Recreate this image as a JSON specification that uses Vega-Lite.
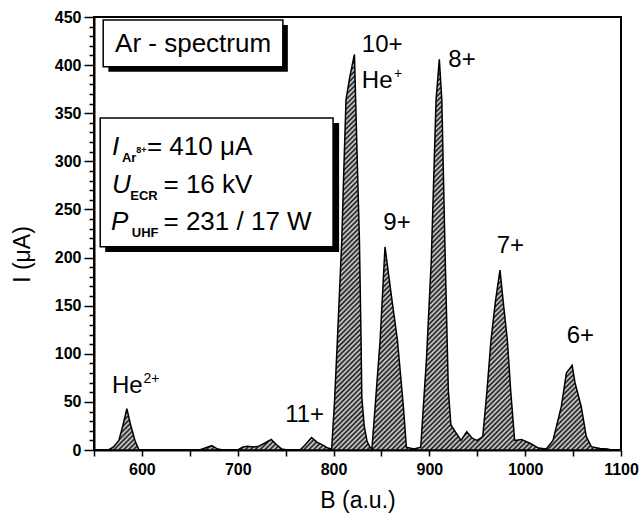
{
  "$schema": "https://vega.github.io/schema/vega-lite/v6.json",
  "width": 527,
  "height": 433,
  "autosize": "none",
  "padding": {"left": 94, "top": 17, "right": 20, "bottom": 74},
  "background": "white",
  "config": {
    "font": "Liberation Sans",
    "view": {"stroke": "black", "strokeWidth": 2},
    "axis": {
      "domainColor": "black", "domainWidth": 2,
      "tickColor": "black", "tickWidth": 1.5,
      "labelColor": "black", "labelFont": "Liberation Sans", "labelFontSize": 16, "labelFontWeight": "bold",
      "titleFont": "Liberation Sans", "titleFontSize": 23, "titleFontWeight": "normal", "titleColor": "black",
      "grid": false, "labelOverlap": false, "labelFlush": false
    }
  },
  "datasets": {
    "spectrum": [
      {"x": 565, "y": 0}, {"x": 570, "y": 3}, {"x": 576, "y": 10}, {"x": 580, "y": 25}, {"x": 584.3, "y": 43},
      {"x": 588, "y": 27}, {"x": 593, "y": 9}, {"x": 597, "y": 0}, {"x": 660, "y": 0}, {"x": 666, "y": 2},
      {"x": 673, "y": 4.5}, {"x": 679, "y": 1}, {"x": 685, "y": 0}, {"x": 700, "y": 0}, {"x": 705, "y": 3},
      {"x": 710, "y": 4}, {"x": 716, "y": 3}, {"x": 722, "y": 4}, {"x": 728, "y": 7}, {"x": 735, "y": 11},
      {"x": 740, "y": 6}, {"x": 746, "y": 1}, {"x": 752, "y": 0}, {"x": 765, "y": 0}, {"x": 770, "y": 5},
      {"x": 777, "y": 13}, {"x": 783, "y": 8}, {"x": 789, "y": 5}, {"x": 794, "y": 2}, {"x": 798, "y": 1},
      {"x": 801, "y": 50}, {"x": 804, "y": 114}, {"x": 808.6, "y": 218}, {"x": 811, "y": 300}, {"x": 813, "y": 364},
      {"x": 817, "y": 388}, {"x": 821.8, "y": 411}, {"x": 824.5, "y": 310}, {"x": 827, "y": 218}, {"x": 828.7, "y": 114},
      {"x": 829.5, "y": 55}, {"x": 832, "y": 25}, {"x": 835, "y": 9}, {"x": 838, "y": 3}, {"x": 840, "y": 1},
      {"x": 843.4, "y": 45}, {"x": 848.6, "y": 114}, {"x": 853.7, "y": 211}, {"x": 860, "y": 163}, {"x": 866.7, "y": 114},
      {"x": 872.9, "y": 45}, {"x": 876, "y": 3}, {"x": 884, "y": 1}, {"x": 891, "y": 3}, {"x": 897, "y": 95},
      {"x": 902, "y": 197}, {"x": 907, "y": 364}, {"x": 910.4, "y": 406}, {"x": 913, "y": 364}, {"x": 916.4, "y": 205},
      {"x": 919.8, "y": 62}, {"x": 922.5, "y": 26}, {"x": 927, "y": 19}, {"x": 933, "y": 10}, {"x": 939, "y": 19},
      {"x": 945, "y": 12}, {"x": 950, "y": 10}, {"x": 955.7, "y": 14}, {"x": 960, "y": 60}, {"x": 964.3, "y": 114},
      {"x": 969, "y": 155}, {"x": 973.7, "y": 187}, {"x": 977.5, "y": 150}, {"x": 981.4, "y": 114}, {"x": 985, "y": 60},
      {"x": 989, "y": 10}, {"x": 996, "y": 11}, {"x": 1005, "y": 7}, {"x": 1014, "y": 2}, {"x": 1022, "y": 1},
      {"x": 1029, "y": 10}, {"x": 1037.7, "y": 45}, {"x": 1043, "y": 80}, {"x": 1049, "y": 88}, {"x": 1052, "y": 70},
      {"x": 1058.5, "y": 45}, {"x": 1063.8, "y": 14}, {"x": 1069, "y": 3.5}, {"x": 1078, "y": 1.5}, {"x": 1086, "y": 1},
      {"x": 1090, "y": 0}
    ],
    "shadows": [
      {"x": 565, "x2": 752.3, "y": 441.7, "y2": 393.2},
      {"x": 561.7, "x2": 805.8, "y": 339.8, "y2": 205.8}
    ],
    "boxes": [
      {"x": 559.6, "x2": 747.1, "y": 446.9, "y2": 398.4},
      {"x": 556.5, "x2": 799.5, "y": 345, "y2": 211.3}
    ],
    "boxTitle": [{"x": 653.4, "y": 414, "text": "Ar - spectrum"}],
    "peakLabels": [
      {"x": 829.5, "y": 414, "text": "10+"},
      {"x": 829.5, "y": 376, "text": "He"},
      {"x": 919.8, "y": 398, "text": "8+"},
      {"x": 852, "y": 229, "text": "9+"},
      {"x": 970.3, "y": 205, "text": "7+"},
      {"x": 1043.3, "y": 111, "text": "6+"},
      {"x": 749.5, "y": 29.4, "text": "11+"},
      {"x": 568.7, "y": 59, "text": "He"}
    ],
    "peakSups": [
      {"x": 863.2, "y": 387, "text": "+"},
      {"x": 601.6, "y": 69.3, "text": "2+"}
    ],
    "symbols": [
      {"x": 568.7, "y": 306.7, "text": "I"},
      {"x": 568.7, "y": 267.5, "text": "U"},
      {"x": 567.8, "y": 228.6, "text": "P"}
    ],
    "subs": [
      {"x": 579.1, "y": 299.4, "text": "Ar"},
      {"x": 587.8, "y": 259.8, "text": "ECR"},
      {"x": 589.5, "y": 221.4, "text": "UHF"}
    ],
    "tinySup": [{"x": 594, "y": 309, "text": "8+"}],
    "values": [
      {"x": 605.2, "y": 306.7, "text": "= 410 μA"},
      {"x": 622.5, "y": 267.5, "text": "= 16 kV"},
      {"x": 622.5, "y": 228.6, "text": "= 231 / 17 W"}
    ]
  },
  "encoding": {
    "x": {
      "field": "x", "type": "quantitative",
      "scale": {"domain": [550, 1100], "nice": false, "zero": false},
      "axis": {
        "title": "B (a.u.)",
        "values": [550, 600, 650, 700, 750, 800, 850, 900, 950, 1000, 1050, 1100],
        "format": "d",
        "labelExpr": "datum.value % 100 === 0 ? datum.label : ''",
        "tickSize": 6, "labelPadding": 5, "titlePadding": 12
      }
    },
    "y": {
      "field": "y", "type": "quantitative",
      "scale": {"domain": [0, 450], "nice": false},
      "axis": {
        "title": "I (μA)",
        "values": [0, 10, 20, 30, 40, 50, 60, 70, 80, 90, 100, 110, 120, 130, 140, 150, 160, 170, 180, 190, 200, 210, 220, 230, 240, 250, 260, 270, 280, 290, 300, 310, 320, 330, 340, 350, 360, 370, 380, 390, 400, 410, 420, 430, 440, 450],
        "format": "d",
        "labelExpr": "datum.value % 50 === 0 ? datum.label : ''",
        "tickSize": {"condition": {"test": "datum.value % 50 === 0", "value": 10}, "value": 5},
        "labelPadding": 3, "titlePadding": 20, "titleY": 237
      }
    }
  },
  "layer": [
    {
      "data": {"name": "spectrum"},
      "mark": {"type": "area", "stroke": "black", "strokeWidth": 1.5, "interpolate": "linear",
        "fill": {"gradient": "linear", "x1": 0, "y1": 0, "x2": 1.2, "y2": 0.94, "stops": [
{"offset":0,"color":"#111"},{"offset":0.0025,"color":"#ddd"},{"offset":0.005,"color":"#111"},{"offset":0.0075,"color":"#ddd"},
{"offset":0.01,"color":"#111"},{"offset":0.0125,"color":"#ddd"},{"offset":0.015,"color":"#111"},{"offset":0.0175,"color":"#ddd"},
{"offset":0.02,"color":"#111"},{"offset":0.0225,"color":"#ddd"},{"offset":0.025,"color":"#111"},{"offset":0.0275,"color":"#ddd"},
{"offset":0.03,"color":"#111"},{"offset":0.0325,"color":"#ddd"},{"offset":0.035,"color":"#111"},{"offset":0.0375,"color":"#ddd"},
{"offset":0.04,"color":"#111"},{"offset":0.0425,"color":"#ddd"},{"offset":0.045,"color":"#111"},{"offset":0.0475,"color":"#ddd"},
{"offset":0.05,"color":"#111"},{"offset":0.0525,"color":"#ddd"},{"offset":0.055,"color":"#111"},{"offset":0.0575,"color":"#ddd"},
{"offset":0.06,"color":"#111"},{"offset":0.0625,"color":"#ddd"},{"offset":0.065,"color":"#111"},{"offset":0.0675,"color":"#ddd"},
{"offset":0.07,"color":"#111"},{"offset":0.0725,"color":"#ddd"},{"offset":0.075,"color":"#111"},{"offset":0.0775,"color":"#ddd"},
{"offset":0.08,"color":"#111"},{"offset":0.0825,"color":"#ddd"},{"offset":0.085,"color":"#111"},{"offset":0.0875,"color":"#ddd"},
{"offset":0.09,"color":"#111"},{"offset":0.0925,"color":"#ddd"},{"offset":0.095,"color":"#111"},{"offset":0.0975,"color":"#ddd"},
{"offset":0.10,"color":"#111"},{"offset":0.1025,"color":"#ddd"},{"offset":0.105,"color":"#111"},{"offset":0.1075,"color":"#ddd"},
{"offset":0.11,"color":"#111"},{"offset":0.1125,"color":"#ddd"},{"offset":0.115,"color":"#111"},{"offset":0.1175,"color":"#ddd"},
{"offset":0.12,"color":"#111"},{"offset":0.1225,"color":"#ddd"},{"offset":0.125,"color":"#111"},{"offset":0.1275,"color":"#ddd"},
{"offset":0.13,"color":"#111"},{"offset":0.1325,"color":"#ddd"},{"offset":0.135,"color":"#111"},{"offset":0.1375,"color":"#ddd"},
{"offset":0.14,"color":"#111"},{"offset":0.1425,"color":"#ddd"},{"offset":0.145,"color":"#111"},{"offset":0.1475,"color":"#ddd"},
{"offset":0.15,"color":"#111"},{"offset":0.1525,"color":"#ddd"},{"offset":0.155,"color":"#111"},{"offset":0.1575,"color":"#ddd"},
{"offset":0.16,"color":"#111"},{"offset":0.1625,"color":"#ddd"},{"offset":0.165,"color":"#111"},{"offset":0.1675,"color":"#ddd"},
{"offset":0.17,"color":"#111"},{"offset":0.1725,"color":"#ddd"},{"offset":0.175,"color":"#111"},{"offset":0.1775,"color":"#ddd"},
{"offset":0.18,"color":"#111"},{"offset":0.1825,"color":"#ddd"},{"offset":0.185,"color":"#111"},{"offset":0.1875,"color":"#ddd"},
{"offset":0.19,"color":"#111"},{"offset":0.1925,"color":"#ddd"},{"offset":0.195,"color":"#111"},{"offset":0.1975,"color":"#ddd"},
{"offset":0.20,"color":"#111"},{"offset":0.2025,"color":"#ddd"},{"offset":0.205,"color":"#111"},{"offset":0.2075,"color":"#ddd"},
{"offset":0.21,"color":"#111"},{"offset":0.2125,"color":"#ddd"},{"offset":0.215,"color":"#111"},{"offset":0.2175,"color":"#ddd"},
{"offset":0.22,"color":"#111"},{"offset":0.2225,"color":"#ddd"},{"offset":0.225,"color":"#111"},{"offset":0.2275,"color":"#ddd"},
{"offset":0.23,"color":"#111"},{"offset":0.2325,"color":"#ddd"},{"offset":0.235,"color":"#111"},{"offset":0.2375,"color":"#ddd"},
{"offset":0.24,"color":"#111"},{"offset":0.2425,"color":"#ddd"},{"offset":0.245,"color":"#111"},{"offset":0.2475,"color":"#ddd"},
{"offset":0.25,"color":"#111"},{"offset":0.2525,"color":"#ddd"},{"offset":0.255,"color":"#111"},{"offset":0.2575,"color":"#ddd"},
{"offset":0.26,"color":"#111"},{"offset":0.2625,"color":"#ddd"},{"offset":0.265,"color":"#111"},{"offset":0.2675,"color":"#ddd"},
{"offset":0.27,"color":"#111"},{"offset":0.2725,"color":"#ddd"},{"offset":0.275,"color":"#111"},{"offset":0.2775,"color":"#ddd"},
{"offset":0.28,"color":"#111"},{"offset":0.2825,"color":"#ddd"},{"offset":0.285,"color":"#111"},{"offset":0.2875,"color":"#ddd"},
{"offset":0.29,"color":"#111"},{"offset":0.2925,"color":"#ddd"},{"offset":0.295,"color":"#111"},{"offset":0.2975,"color":"#ddd"},
{"offset":0.30,"color":"#111"},{"offset":0.3025,"color":"#ddd"},{"offset":0.305,"color":"#111"},{"offset":0.3075,"color":"#ddd"},
{"offset":0.31,"color":"#111"},{"offset":0.3125,"color":"#ddd"},{"offset":0.315,"color":"#111"},{"offset":0.3175,"color":"#ddd"},
{"offset":0.32,"color":"#111"},{"offset":0.3225,"color":"#ddd"},{"offset":0.325,"color":"#111"},{"offset":0.3275,"color":"#ddd"},
{"offset":0.33,"color":"#111"},{"offset":0.3325,"color":"#ddd"},{"offset":0.335,"color":"#111"},{"offset":0.3375,"color":"#ddd"},
{"offset":0.34,"color":"#111"},{"offset":0.3425,"color":"#ddd"},{"offset":0.345,"color":"#111"},{"offset":0.3475,"color":"#ddd"},
{"offset":0.35,"color":"#111"},{"offset":0.3525,"color":"#ddd"},{"offset":0.355,"color":"#111"},{"offset":0.3575,"color":"#ddd"},
{"offset":0.36,"color":"#111"},{"offset":0.3625,"color":"#ddd"},{"offset":0.365,"color":"#111"},{"offset":0.3675,"color":"#ddd"},
{"offset":0.37,"color":"#111"},{"offset":0.3725,"color":"#ddd"},{"offset":0.375,"color":"#111"},{"offset":0.3775,"color":"#ddd"},
{"offset":0.38,"color":"#111"},{"offset":0.3825,"color":"#ddd"},{"offset":0.385,"color":"#111"},{"offset":0.3875,"color":"#ddd"},
{"offset":0.39,"color":"#111"},{"offset":0.3925,"color":"#ddd"},{"offset":0.395,"color":"#111"},{"offset":0.3975,"color":"#ddd"},
{"offset":0.40,"color":"#111"},{"offset":0.4025,"color":"#ddd"},{"offset":0.405,"color":"#111"},{"offset":0.4075,"color":"#ddd"},
{"offset":0.41,"color":"#111"},{"offset":0.4125,"color":"#ddd"},{"offset":0.415,"color":"#111"},{"offset":0.4175,"color":"#ddd"},
{"offset":0.42,"color":"#111"},{"offset":0.4225,"color":"#ddd"},{"offset":0.425,"color":"#111"},{"offset":0.4275,"color":"#ddd"},
{"offset":0.43,"color":"#111"},{"offset":0.4325,"color":"#ddd"},{"offset":0.435,"color":"#111"},{"offset":0.4375,"color":"#ddd"},
{"offset":0.44,"color":"#111"},{"offset":0.4425,"color":"#ddd"},{"offset":0.445,"color":"#111"},{"offset":0.4475,"color":"#ddd"},
{"offset":0.45,"color":"#111"},{"offset":0.4525,"color":"#ddd"},{"offset":0.455,"color":"#111"},{"offset":0.4575,"color":"#ddd"},
{"offset":0.46,"color":"#111"},{"offset":0.4625,"color":"#ddd"},{"offset":0.465,"color":"#111"},{"offset":0.4675,"color":"#ddd"},
{"offset":0.47,"color":"#111"},{"offset":0.4725,"color":"#ddd"},{"offset":0.475,"color":"#111"},{"offset":0.4775,"color":"#ddd"},
{"offset":0.48,"color":"#111"},{"offset":0.4825,"color":"#ddd"},{"offset":0.485,"color":"#111"},{"offset":0.4875,"color":"#ddd"},
{"offset":0.49,"color":"#111"},{"offset":0.4925,"color":"#ddd"},{"offset":0.495,"color":"#111"},{"offset":0.4975,"color":"#ddd"},
{"offset":0.50,"color":"#111"},{"offset":0.5025,"color":"#ddd"},{"offset":0.505,"color":"#111"},{"offset":0.5075,"color":"#ddd"},
{"offset":0.51,"color":"#111"},{"offset":0.5125,"color":"#ddd"},{"offset":0.515,"color":"#111"},{"offset":0.5175,"color":"#ddd"},
{"offset":0.52,"color":"#111"},{"offset":0.5225,"color":"#ddd"},{"offset":0.525,"color":"#111"},{"offset":0.5275,"color":"#ddd"},
{"offset":0.53,"color":"#111"},{"offset":0.5325,"color":"#ddd"},{"offset":0.535,"color":"#111"},{"offset":0.5375,"color":"#ddd"},
{"offset":0.54,"color":"#111"},{"offset":0.5425,"color":"#ddd"},{"offset":0.545,"color":"#111"},{"offset":0.5475,"color":"#ddd"},
{"offset":0.55,"color":"#111"},{"offset":0.5525,"color":"#ddd"},{"offset":0.555,"color":"#111"},{"offset":0.5575,"color":"#ddd"},
{"offset":0.56,"color":"#111"},{"offset":0.5625,"color":"#ddd"},{"offset":0.565,"color":"#111"},{"offset":0.5675,"color":"#ddd"},
{"offset":0.57,"color":"#111"},{"offset":0.5725,"color":"#ddd"},{"offset":0.575,"color":"#111"},{"offset":0.5775,"color":"#ddd"},
{"offset":0.58,"color":"#111"},{"offset":0.5825,"color":"#ddd"},{"offset":0.585,"color":"#111"},{"offset":0.5875,"color":"#ddd"},
{"offset":0.59,"color":"#111"},{"offset":0.5925,"color":"#ddd"},{"offset":0.595,"color":"#111"},{"offset":0.5975,"color":"#ddd"},
{"offset":0.60,"color":"#111"},{"offset":0.6025,"color":"#ddd"},{"offset":0.605,"color":"#111"},{"offset":0.6075,"color":"#ddd"},
{"offset":0.61,"color":"#111"},{"offset":0.6125,"color":"#ddd"},{"offset":0.615,"color":"#111"},{"offset":0.6175,"color":"#ddd"},
{"offset":0.62,"color":"#111"},{"offset":0.6225,"color":"#ddd"},{"offset":0.625,"color":"#111"},{"offset":0.6275,"color":"#ddd"},
{"offset":0.63,"color":"#111"},{"offset":0.6325,"color":"#ddd"},{"offset":0.635,"color":"#111"},{"offset":0.6375,"color":"#ddd"},
{"offset":0.64,"color":"#111"},{"offset":0.6425,"color":"#ddd"},{"offset":0.645,"color":"#111"},{"offset":0.6475,"color":"#ddd"},
{"offset":0.65,"color":"#111"},{"offset":0.6525,"color":"#ddd"},{"offset":0.655,"color":"#111"},{"offset":0.6575,"color":"#ddd"},
{"offset":0.66,"color":"#111"},{"offset":0.6625,"color":"#ddd"},{"offset":0.665,"color":"#111"},{"offset":0.6675,"color":"#ddd"},
{"offset":0.67,"color":"#111"},{"offset":0.6725,"color":"#ddd"},{"offset":0.675,"color":"#111"},{"offset":0.6775,"color":"#ddd"},
{"offset":0.68,"color":"#111"},{"offset":0.6825,"color":"#ddd"},{"offset":0.685,"color":"#111"},{"offset":0.6875,"color":"#ddd"},
{"offset":0.69,"color":"#111"},{"offset":0.6925,"color":"#ddd"},{"offset":0.695,"color":"#111"},{"offset":0.6975,"color":"#ddd"},
{"offset":0.70,"color":"#111"},{"offset":0.7025,"color":"#ddd"},{"offset":0.705,"color":"#111"},{"offset":0.7075,"color":"#ddd"},
{"offset":0.71,"color":"#111"},{"offset":0.7125,"color":"#ddd"},{"offset":0.715,"color":"#111"},{"offset":0.7175,"color":"#ddd"},
{"offset":0.72,"color":"#111"},{"offset":0.7225,"color":"#ddd"},{"offset":0.725,"color":"#111"},{"offset":0.7275,"color":"#ddd"},
{"offset":0.73,"color":"#111"},{"offset":0.7325,"color":"#ddd"},{"offset":0.735,"color":"#111"},{"offset":0.7375,"color":"#ddd"},
{"offset":0.74,"color":"#111"},{"offset":0.7425,"color":"#ddd"},{"offset":0.745,"color":"#111"},{"offset":0.7475,"color":"#ddd"},
{"offset":0.75,"color":"#111"},{"offset":0.7525,"color":"#ddd"},{"offset":0.755,"color":"#111"},{"offset":0.7575,"color":"#ddd"},
{"offset":0.76,"color":"#111"},{"offset":0.7625,"color":"#ddd"},{"offset":0.765,"color":"#111"},{"offset":0.7675,"color":"#ddd"},
{"offset":0.77,"color":"#111"},{"offset":0.7725,"color":"#ddd"},{"offset":0.775,"color":"#111"},{"offset":0.7775,"color":"#ddd"},
{"offset":0.78,"color":"#111"},{"offset":0.7825,"color":"#ddd"},{"offset":0.785,"color":"#111"},{"offset":0.7875,"color":"#ddd"},
{"offset":0.79,"color":"#111"},{"offset":0.7925,"color":"#ddd"},{"offset":0.795,"color":"#111"},{"offset":0.7975,"color":"#ddd"},
{"offset":0.80,"color":"#111"},{"offset":0.8025,"color":"#ddd"},{"offset":0.805,"color":"#111"},{"offset":0.8075,"color":"#ddd"},
{"offset":0.81,"color":"#111"},{"offset":0.8125,"color":"#ddd"},{"offset":0.815,"color":"#111"},{"offset":0.8175,"color":"#ddd"},
{"offset":0.82,"color":"#111"},{"offset":0.8225,"color":"#ddd"},{"offset":0.825,"color":"#111"},{"offset":0.8275,"color":"#ddd"},
{"offset":0.83,"color":"#111"},{"offset":0.8325,"color":"#ddd"},{"offset":0.835,"color":"#111"},{"offset":0.8375,"color":"#ddd"},
{"offset":0.84,"color":"#111"},{"offset":0.8425,"color":"#ddd"},{"offset":0.845,"color":"#111"},{"offset":0.8475,"color":"#ddd"},
{"offset":0.85,"color":"#111"},{"offset":0.8525,"color":"#ddd"},{"offset":0.855,"color":"#111"},{"offset":0.8575,"color":"#ddd"},
{"offset":0.86,"color":"#111"},{"offset":0.8625,"color":"#ddd"},{"offset":0.865,"color":"#111"},{"offset":0.8675,"color":"#ddd"},
{"offset":0.87,"color":"#111"},{"offset":0.8725,"color":"#ddd"},{"offset":0.875,"color":"#111"},{"offset":0.8775,"color":"#ddd"},
{"offset":0.88,"color":"#111"},{"offset":0.8825,"color":"#ddd"},{"offset":0.885,"color":"#111"},{"offset":0.8875,"color":"#ddd"},
{"offset":0.89,"color":"#111"},{"offset":0.8925,"color":"#ddd"},{"offset":0.895,"color":"#111"},{"offset":0.8975,"color":"#ddd"},
{"offset":0.90,"color":"#111"},{"offset":0.9025,"color":"#ddd"},{"offset":0.905,"color":"#111"},{"offset":0.9075,"color":"#ddd"},
{"offset":0.91,"color":"#111"},{"offset":0.9125,"color":"#ddd"},{"offset":0.915,"color":"#111"},{"offset":0.9175,"color":"#ddd"},
{"offset":0.92,"color":"#111"},{"offset":0.9225,"color":"#ddd"},{"offset":0.925,"color":"#111"},{"offset":0.9275,"color":"#ddd"},
{"offset":0.93,"color":"#111"},{"offset":0.9325,"color":"#ddd"},{"offset":0.935,"color":"#111"},{"offset":0.9375,"color":"#ddd"},
{"offset":0.94,"color":"#111"},{"offset":0.9425,"color":"#ddd"},{"offset":0.945,"color":"#111"},{"offset":0.9475,"color":"#ddd"},
{"offset":0.95,"color":"#111"},{"offset":0.9525,"color":"#ddd"},{"offset":0.955,"color":"#111"},{"offset":0.9575,"color":"#ddd"},
{"offset":0.96,"color":"#111"},{"offset":0.9625,"color":"#ddd"},{"offset":0.965,"color":"#111"},{"offset":0.9675,"color":"#ddd"},
{"offset":0.97,"color":"#111"},{"offset":0.9725,"color":"#ddd"},{"offset":0.975,"color":"#111"},{"offset":0.9775,"color":"#ddd"},
{"offset":0.98,"color":"#111"},{"offset":0.9825,"color":"#ddd"},{"offset":0.985,"color":"#111"},{"offset":0.9875,"color":"#ddd"},
{"offset":0.99,"color":"#111"},{"offset":0.9925,"color":"#ddd"},{"offset":0.995,"color":"#111"},{"offset":0.9975,"color":"#ddd"},
{"offset":1,"color":"#111"}
        ]}
      }
    },
    {
      "data": {"name": "shadows"},
      "mark": {"type": "rect", "fill": "black"},
      "encoding": {"x2": {"field": "x2"}, "y2": {"field": "y2"}}
    },
    {
      "data": {"name": "boxes"},
      "mark": {"type": "rect", "fill": "white", "stroke": "black", "strokeWidth": 1.5},
      "encoding": {"x2": {"field": "x2"}, "y2": {"field": "y2"}}
    },
    {
      "data": {"name": "boxTitle"},
      "mark": {"type": "text", "fontSize": 26, "align": "center", "baseline": "alphabetic", "color": "black"},
      "encoding": {"text": {"field": "text"}}
    },
    {
      "data": {"name": "peakLabels"},
      "mark": {"type": "text", "fontSize": 24, "align": "left", "baseline": "alphabetic", "color": "black"},
      "encoding": {"text": {"field": "text"}}
    },
    {
      "data": {"name": "peakSups"},
      "mark": {"type": "text", "fontSize": 14, "align": "left", "baseline": "alphabetic", "color": "black"},
      "encoding": {"text": {"field": "text"}}
    },
    {
      "data": {"name": "symbols"},
      "mark": {"type": "text", "fontSize": 26, "fontStyle": "italic", "align": "left", "baseline": "alphabetic", "color": "black"},
      "encoding": {"text": {"field": "text"}}
    },
    {
      "data": {"name": "subs"},
      "mark": {"type": "text", "fontSize": 13, "fontWeight": "bold", "align": "left", "baseline": "alphabetic", "color": "black"},
      "encoding": {"text": {"field": "text"}}
    },
    {
      "data": {"name": "tinySup"},
      "mark": {"type": "text", "fontSize": 9, "fontWeight": "bold", "align": "left", "baseline": "alphabetic", "color": "black"},
      "encoding": {"text": {"field": "text"}}
    },
    {
      "data": {"name": "values"},
      "mark": {"type": "text", "fontSize": 26, "align": "left", "baseline": "alphabetic", "color": "black"},
      "encoding": {"text": {"field": "text"}}
    }
  ]
}
